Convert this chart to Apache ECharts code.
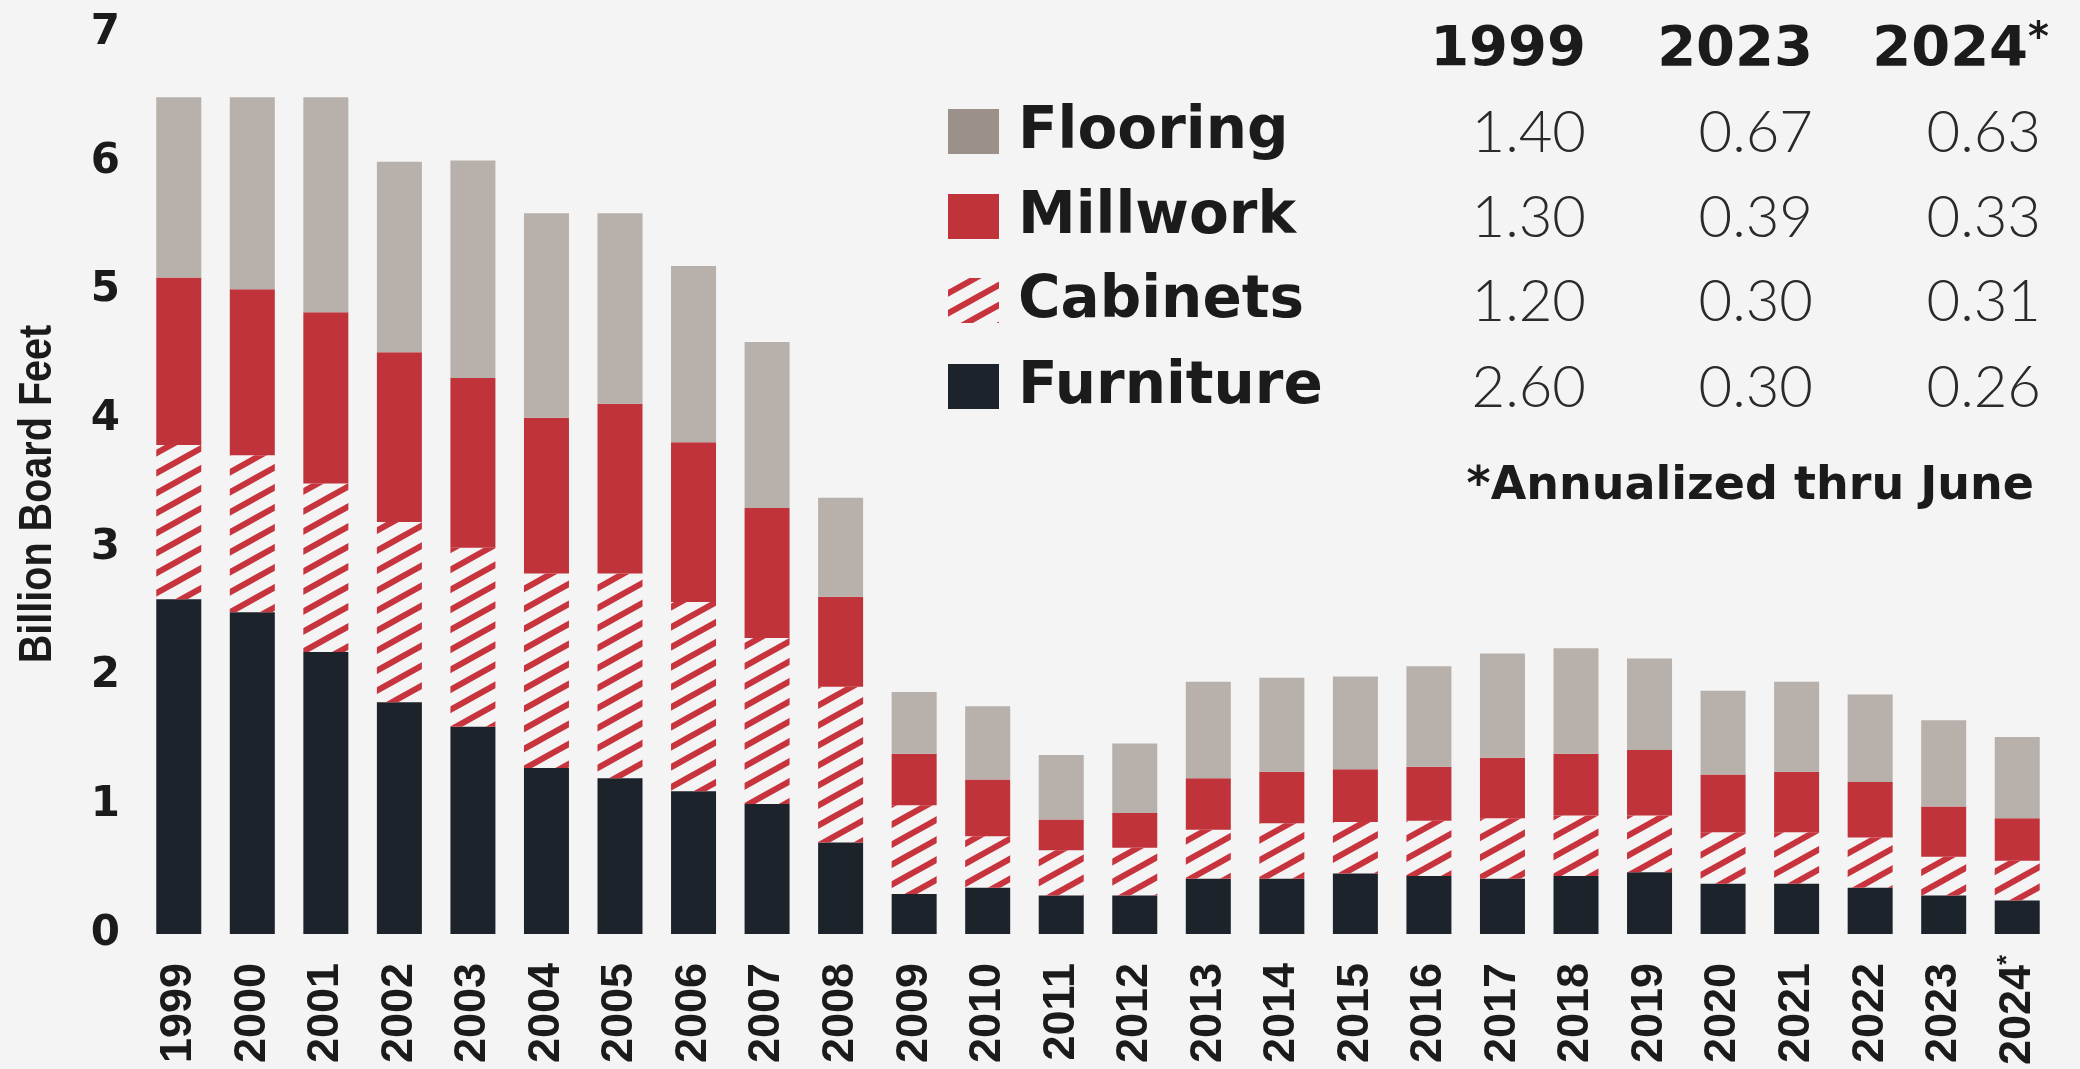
<!DOCTYPE html>
<html>
<head>
<meta charset="utf-8">
<script src="https://cdn.jsdelivr.net/npm/echarts@6/dist/echarts.min.js"></script>
<style>
  html, body { margin: 0; padding: 0; background: #f4f4f4; }
  #chart { width: 2080px; height: 1069px; }
</style>
</head>
<body>
<div id="chart"></div>
<script>
// ---------------- DATA ----------------
const years = ['1999','2000','2001','2002','2003','2004','2005','2006','2007','2008','2009','2010','2011',
               '2012','2013','2014','2015','2016','2017','2018','2019','2020','2021','2022','2023','2024*'];
const furniture = [2.60,2.50,2.19,1.80,1.61,1.29,1.21,1.11,1.01,0.71,0.31,0.36,0.30,0.30,0.43,0.43,0.47,0.45,0.43,0.45,0.48,0.39,0.39,0.36,0.30,0.26];
const cabinets  = [1.20,1.22,1.31,1.40,1.39,1.51,1.59,1.47,1.29,1.21,0.69,0.40,0.35,0.37,0.38,0.43,0.40,0.43,0.47,0.47,0.44,0.40,0.40,0.39,0.30,0.31];
const millwork  = [1.30,1.29,1.33,1.32,1.32,1.21,1.32,1.24,1.01,0.70,0.40,0.44,0.24,0.27,0.40,0.40,0.41,0.42,0.47,0.48,0.51,0.45,0.47,0.43,0.39,0.33];
const flooring  = [1.40,1.49,1.67,1.48,1.69,1.59,1.48,1.37,1.29,0.77,0.48,0.57,0.50,0.54,0.75,0.73,0.72,0.78,0.81,0.82,0.71,0.65,0.70,0.68,0.67,0.63];
const tableHeads = ['1999','2023','2024*'];
const tableIdx = [0, 24, 25];
const yMin = 0, yMax = 7, yStep = 1;
const yTitle = 'Billion Board Feet';
const footnote = '*Annualized thru June';

// ---------------- STYLE ----------------
const BG = '#f4f4f4';
const C_FLOOR = '#b8b0ab', C_FLOOR_KEY = '#9b918a';
const C_MILL = '#c0333a';
const C_FURN = '#1d232b';
const C_HATCH = '#c8343d';
const TXT = '#1b1b1b';
const WIDE = '"DejaVu Sans", sans-serif';
const SANS = '"Liberation Sans", Arial, sans-serif';
const LIGHT = 'Lato, "Open Sans", Roboto, sans-serif';

function hatchCanvas() {
  const W = 36, H = 20;
  const c = document.createElement('canvas');
  c.width = W; c.height = H;
  const g = c.getContext('2d');
  g.strokeStyle = C_HATCH;
  g.lineWidth = 6;
  [-H, 0, H].forEach(off => {
    g.beginPath();
    g.moveTo(-2, H + off + 2 * H / W);
    g.lineTo(W + 2, off - 2 * H / W);
    g.stroke();
  });
  return c;
}
const hatch = { image: hatchCanvas(), repeat: 'repeat' };

const rows = [
  { name: 'Flooring',  data: flooring,  key: C_FLOOR_KEY, y: 131 },
  { name: 'Millwork',  data: millwork,  key: C_MILL,      y: 216 },
  { name: 'Cabinets',  data: cabinets,  key: hatch,       y: 300 },
  { name: 'Furniture', data: furniture, key: C_FURN,      y: 386 }
];
const colRight = [1586, 1813, 2041];

const graphics = [];
// header
tableHeads.forEach((h, i) => {
  const star = h.endsWith('*');
  graphics.push({
    type: 'text', x: colRight[i] + (star ? 8 : 0), y: 50,
    style: {
      text: star ? '{d|' + h.slice(0, -1) + '}{s|*}' : h,
      font: 'bold 56px ' + WIDE, fill: TXT, align: 'right', verticalAlign: 'middle',
      rich: {
        d: { font: 'bold 56px ' + WIDE, fill: TXT },
        s: { font: 'bold 40px ' + WIDE, fill: TXT, verticalAlign: 'top', padding: [0, 0, 20, 0] }
      }
    }
  });
});
rows.forEach(r => {
  graphics.push({ type: 'rect', shape: { x: 948, y: r.y - 22, width: 51, height: 45 }, style: { fill: r.key } });
  graphics.push({ type: 'text', x: 1018, y: r.y + 2,
    style: { text: r.name, font: 'bold 58px ' + WIDE, fill: TXT, align: 'left', verticalAlign: 'middle' } });
  tableIdx.forEach((idx, i) => {
    graphics.push({ type: 'text', x: colRight[i], y: r.y + 2,
      style: { text: r.data[idx].toFixed(2), font: '300 58px ' + LIGHT, fill: '#2a2a2a', align: 'right', verticalAlign: 'middle' } });
  });
});
graphics.push({ type: 'text', x: 2034, y: 487,
  style: { text: footnote, font: 'bold 46px ' + WIDE, fill: TXT, align: 'right', verticalAlign: 'middle' } });
graphics.push({ type: 'text', x: 38, y: 494, rotation: Math.PI / 2, scaleX: 0.86,
  style: { text: yTitle, font: 'bold 46px ' + SANS, fill: TXT, align: 'center', verticalAlign: 'middle' } });

const barBase = { type: 'bar', stack: 'total', barWidth: 45, silent: true, animation: false };

const option = {
  backgroundColor: BG,
  animation: false,
  grid: { left: 142, right: 26, top: 33, bottom: 135, containLabel: false, outerBoundsMode: 'none' },
  xAxis: {
    type: 'category', data: years,
    axisLine: { show: false }, axisTick: { show: false },
    axisLabel: {
      rotate: 90, margin: 29, interval: 0,
      fontFamily: SANS, fontWeight: 'bold', fontSize: 45, color: TXT,
      formatter: v => v.endsWith('*') ? '{d|' + v.slice(0, -1) + '}{s|*}' : v,
      rich: {
        d: { fontFamily: SANS, fontWeight: 'bold', fontSize: 45, color: TXT, align: 'left' },
        s: { fontFamily: SANS, fontWeight: 'bold', fontSize: 26, color: TXT, verticalAlign: 'top', align: 'left', width: 2 }
      }
    }
  },
  yAxis: {
    type: 'value', min: yMin, max: yMax, interval: yStep,
    splitLine: { show: false }, axisLine: { show: false }, axisTick: { show: false },
    axisLabel: { margin: 22, fontFamily: WIDE, fontWeight: 'bold', fontSize: 42, color: TXT }
  },
  series: [
    Object.assign({}, barBase, { name: 'Furniture', data: furniture, itemStyle: { color: C_FURN } }),
    Object.assign({}, barBase, { name: 'Cabinets',  data: cabinets,  itemStyle: { color: hatch } }),
    Object.assign({}, barBase, { name: 'Millwork',  data: millwork,  itemStyle: { color: C_MILL } }),
    Object.assign({}, barBase, { name: 'Flooring',  data: flooring,  itemStyle: { color: C_FLOOR } })
  ],
  graphic: graphics
};

const chart = echarts.init(document.getElementById('chart'), null, { renderer: 'canvas' });
chart.setOption(option);
</script>
</body>
</html>
